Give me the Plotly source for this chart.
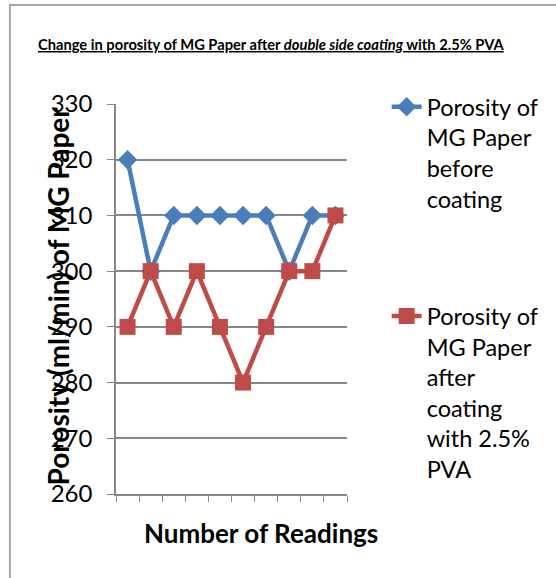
import plotly.graph_objects as go

readings = list(range(1, 11))
before = [320, 300, 310, 310, 310, 310, 310, 300, 310, 310]
after = [290, 300, 290, 300, 290, 280, 290, 300, 300, 310]
y_ticks = [260, 270, 280, 290, 300, 310, 320, 330]

W, H = 556, 578
L, R, T, B = 116, 349, 104, 494
pw, ph = R - L, B - T

def px(x):
    return (x - L) / pw

def py(y):
    return (B - y) / ph

FONT = "Lato, 'Open Sans', sans-serif"
GRID = "#878787"

fig = go.Figure()
fig.add_trace(go.Scatter(
    x=readings, y=before, mode="lines+markers",
    name="Porosity of<br>MG Paper<br>before<br>coating",
    line=dict(color="#4A7EBB", width=4.5),
    marker=dict(symbol="diamond", size=15, color="#4A7EBB"),
    legendgroup="a",
))
fig.add_trace(go.Scatter(
    x=readings, y=after, mode="lines+markers",
    name="Porosity of<br>MG Paper<br>after<br>coating<br>with 2.5%<br>PVA",
    line=dict(color="#BE4B48", width=4.5),
    marker=dict(symbol="square", size=16, color="#BE4B48"),
    legendgroup="b",
))

fig.update_layout(
    width=W, height=H,
    margin=dict(l=L, r=W - R, t=T, b=H - B),
    paper_bgcolor="white", plot_bgcolor="white",
    font=dict(family=FONT, color="black"),
    showlegend=True,
    legend=dict(
        x=px(389), y=py(85), xanchor="left", yanchor="top",
        font=dict(size=23.5, family=FONT, color="black"),
        valign="top", tracegroupgap=84, bgcolor="rgba(0,0,0,0)",
        maxheight=560,
    ),
    xaxis=dict(
        range=[0.5, 10.5], tickmode="array",
        tickvals=[i + 0.5 for i in range(0, 11)],
        showticklabels=False, ticks="outside", ticklen=6, tickcolor=GRID,
        showgrid=False, showline=True, linecolor=GRID, linewidth=1.5,
        zeroline=False,
    ),
    yaxis=dict(
        range=[260, 330], tickmode="array", tickvals=y_ticks,
        ticks="outside", ticklen=7, tickcolor=GRID,
        tickfont=dict(size=24, family=FONT, color="black"),
        showgrid=True, gridcolor=GRID, gridwidth=1.5,
        showline=True, linecolor=GRID, linewidth=1.5, zeroline=False,
        ticklabelstandoff=10,
    ),
    shapes=[dict(
        type="rect", xref="paper", yref="paper",
        x0=px(9), x1=px(700), y0=py(700), y1=py(5),
        line=dict(color="#A6A6A6", width=2), fillcolor="rgba(0,0,0,0)",
        layer="below",
    )],
    annotations=[
        dict(
            text="<u><b>Change in porosity of MG Paper after <i>double side coating</i> with 2.5% PVA</b></u>",
            xref="paper", yref="paper", x=px(273), y=py(44),
            xanchor="center", yanchor="middle", showarrow=False,
            font=dict(size=14.7, family=FONT, color="black"),
        ),
        dict(
            text="<b>Porosity (ml/min) of MG Paper</b>",
            xref="paper", yref="paper", x=px(57), y=py(296),
            xanchor="center", yanchor="middle", textangle=-90, showarrow=False,
            font=dict(size=28, family=FONT, color="black"),
        ),
        dict(
            text="<b>Number of Readings</b>",
            xref="paper", yref="paper", x=px(262), y=py(533),
            xanchor="center", yanchor="middle", showarrow=False,
            font=dict(size=26, family=FONT, color="black"),
        ),
    ],
)

fig.write_html("out.html")
